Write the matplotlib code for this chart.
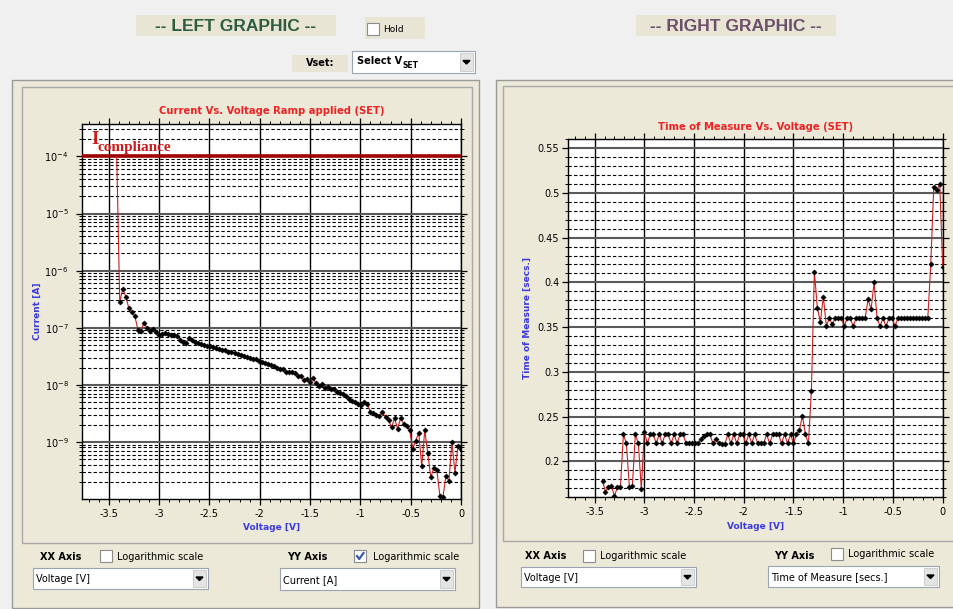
import matplotlib
matplotlib.use("Agg")
import matplotlib.pyplot as plt
from matplotlib.patches import Rectangle, Polygon
from matplotlib.ticker import FixedLocator, LogLocator, MultipleLocator, NullFormatter, FuncFormatter

# voltage ramp (V), shared by both graphics
VOLTAGE = [-3.42, -3.39, -3.36, -3.33, -3.30, -3.27, -3.24, -3.21, -3.18, -3.15,
           -3.12, -3.09, -3.06, -3.03, -3.00, -2.97, -2.94, -2.91, -2.88, -2.85,
           -2.82, -2.79, -2.76, -2.73, -2.70, -2.67, -2.64, -2.61, -2.58, -2.55,
           -2.52, -2.49, -2.46, -2.43, -2.40, -2.37, -2.34, -2.31, -2.28, -2.25,
           -2.22, -2.19, -2.16, -2.13, -2.10, -2.07, -2.04, -2.01, -1.98, -1.95,
           -1.92, -1.89, -1.86, -1.83, -1.80, -1.77, -1.74, -1.71, -1.68, -1.65,
           -1.62, -1.59, -1.56, -1.53, -1.50, -1.47, -1.44, -1.41, -1.38, -1.35,
           -1.32, -1.29, -1.26, -1.23, -1.20, -1.17, -1.14, -1.11, -1.08, -1.05,
           -1.02, -0.99, -0.96, -0.93, -0.90, -0.87, -0.84, -0.81, -0.78, -0.75,
           -0.72, -0.69, -0.66, -0.63, -0.60, -0.57, -0.54, -0.51, -0.48, -0.45,
           -0.42, -0.39, -0.36, -0.33, -0.30, -0.27, -0.24, -0.21, -0.18, -0.15,
           -0.12, -0.09, -0.06, -0.03, 0.00]

# current (A), left graphic
CURRENT = [1.0e-4, 2.8e-7, 4.8e-7, 3.5e-7, 2.2e-7, 1.9e-7, 1.6e-7, 9.3e-8, 8.9e-8, 1.2e-7,
           1.0e-7, 8.9e-8, 9.5e-8, 8.3e-8, 7.6e-8, 7.8e-8, 8.1e-8, 7.9e-8, 7.6e-8, 7.6e-8,
           7.1e-8, 6.0e-8, 5.6e-8, 5.4e-8, 6.5e-8, 6.0e-8, 5.6e-8, 5.4e-8, 5.2e-8, 5.0e-8,
           4.8e-8, 4.7e-8, 4.6e-8, 4.4e-8, 4.3e-8, 4.1e-8, 4.0e-8, 3.8e-8, 3.7e-8, 3.6e-8,
           3.5e-8, 3.3e-8, 3.2e-8, 3.1e-8, 3.0e-8, 2.8e-8, 2.8e-8, 2.6e-8, 2.5e-8, 2.4e-8,
           2.3e-8, 2.2e-8, 2.1e-8, 2.0e-8, 1.9e-8, 1.9e-8, 1.7e-8, 1.66e-8, 1.7e-8, 1.6e-8,
           1.45e-8, 1.4e-8, 1.2e-8, 1.26e-8, 1.1e-8, 1.3e-8, 1.07e-8, 9.5e-9, 1.02e-8, 8.9e-9,
           9.1e-9, 8.5e-9, 8.3e-9, 7.6e-9, 7.2e-9, 6.8e-9, 6.3e-9, 5.6e-9, 5.2e-9, 5.0e-9,
           4.6e-9, 4.4e-9, 5.0e-9, 4.7e-9, 3.3e-9, 3.2e-9, 3.0e-9, 2.8e-9, 3.3e-9, 2.7e-9,
           2.4e-9, 1.8e-9, 2.6e-9, 1.7e-9, 2.6e-9, 2.1e-9, 1.9e-9, 1.6e-9, 7.6e-10, 1.05e-9,
           1.45e-9, 3.8e-10, 1.6e-9, 6.3e-10, 2.4e-10, 3.5e-10, 3.2e-10, 1.15e-10, 1.07e-10, 2.5e-10,
           2.1e-10, 9.8e-10, 2.9e-10, 8.5e-10, 7.6e-10]

# time of measure (s), right graphic
TIME_MEAS = [0.178, 0.166, 0.171, 0.172, 0.161, 0.171, 0.171, 0.230, 0.220, 0.171,
             0.172, 0.230, 0.220, 0.169, 0.233, 0.220, 0.230, 0.230, 0.220, 0.230,
             0.220, 0.230, 0.230, 0.220, 0.230, 0.220, 0.230, 0.230, 0.220, 0.220,
             0.220, 0.220, 0.220, 0.225, 0.228, 0.231, 0.230, 0.220, 0.225, 0.220,
             0.219, 0.219, 0.230, 0.220, 0.230, 0.220, 0.230, 0.230, 0.220, 0.230,
             0.220, 0.230, 0.220, 0.220, 0.220, 0.230, 0.220, 0.230, 0.230, 0.230,
             0.220, 0.230, 0.220, 0.230, 0.220, 0.230, 0.235, 0.251, 0.230, 0.220,
             0.279, 0.412, 0.371, 0.356, 0.384, 0.351, 0.360, 0.353, 0.360, 0.360,
             0.360, 0.351, 0.360, 0.360, 0.351, 0.360, 0.360, 0.360, 0.360, 0.381,
             0.370, 0.400, 0.360, 0.351, 0.360, 0.351, 0.360, 0.360, 0.351, 0.360,
             0.360, 0.360, 0.360, 0.360, 0.360, 0.360, 0.360, 0.360, 0.360, 0.360,
             0.420, 0.507, 0.503, 0.510, 0.417]

I_COMPLIANCE = 1e-4
LOG_TICKS = [1e-9, 1e-8, 1e-7, 1e-6, 1e-5, 1e-4]

W, H = 954, 609
PAGE = "#f0f0f0"
BEIGE = "#ece9d8"
LINE_RED = "#cc2020"
TITLE_RED = "#ee2222"
LABEL_BLUE = "#3a3ae0"
FONT = "DejaVu Sans"

fig = plt.figure(figsize=(W / 100, H / 100), dpi=100)
fig.patch.set_facecolor(PAGE)

# pixel-space layer for the surrounding form controls
ui = fig.add_axes([0, 0, 1, 1])
ui.set_xlim(0, W)
ui.set_ylim(H, 0)
ui.axis("off")


def box(x0, y0, x1, y1, fc, ec="none", lw=1.0):
    ui.add_patch(Rectangle((x0, y0), x1 - x0, y1 - y0, facecolor=fc, edgecolor=ec, lw=lw))


def checkbox(x, y, checked=False):
    box(x, y, x + 12, y + 12, "white", "#8c8c8c", 0.8)
    if checked:
        ui.plot([x + 3, x + 5.2, x + 9.5], [y + 6, y + 9, y + 3], color="#3b58b0", lw=1.6)


def combo(x0, y0, x1, y1, label):
    box(x0, y0, x1, y1, "white", "#9aa4b0", 0.8)
    box(x1 - 15, y0 + 2, x1 - 2, y1 - 2, "#e4e4e4", "#c8c8c8", 0.6)
    cx, cy = x1 - 8.5, (y0 + y1) / 2
    ui.add_patch(Polygon([[cx - 3.5, cy - 1.5], [cx + 3.5, cy - 1.5], [cx, cy + 2]], color="black"))
    ui.text(x0 + 3, (y0 + y1) / 2 + 1, label, ha="left", va="center", fontsize=7, family=FONT)


# panels
box(12, 80, 479, 608, BEIGE, "#9a9a9a", 1.0)
box(22, 87, 472, 543, BEIGE, "#a8a8a8", 1.0)
box(496, 80, 960, 607, BEIGE, "#9a9a9a", 1.0)
box(503, 86, 960, 541, BEIGE, "#a8a8a8", 1.0)

# headers
box(136, 15, 336, 36, "#e8e5d5")
ui.text(236, 26.5, "-- LEFT GRAPHIC --", ha="center", va="center", fontsize=12.5,
        fontweight="bold", color="#2e5c40", family="Liberation Sans")
box(636, 15, 836, 36, "#e8e5d5")
ui.text(736, 26.5, "-- RIGHT GRAPHIC --", ha="center", va="center", fontsize=12.5,
        fontweight="bold", color="#6a4e6a", family="Liberation Sans")

box(365, 17, 425, 39, "#e8e5d5")
checkbox(367, 23)
ui.text(383, 29.5, "Hold", ha="left", va="center", fontsize=6.5, family=FONT)

box(292, 55, 348, 72, "#e8e5d5")
ui.text(320, 63.5, "Vset:", ha="center", va="center", fontsize=7, fontweight="bold", family=FONT)
box(352, 51, 475, 73, "white", "#9aa4b0", 0.8)
box(460, 53, 473, 71, "#e4e4e4", "#c8c8c8", 0.6)
ui.add_patch(Polygon([[463, 60.5], [470, 60.5], [466.5, 64]], color="black"))
sel = ui.text(357, 61, "Select V", ha="left", va="center", fontsize=7, fontweight="bold",
              family=FONT)
# put the subscript right after the main text
renderer = fig.canvas.get_renderer()
sel_end = ui.transData.inverted().transform(sel.get_window_extent(renderer=renderer))[1][0]
ui.text(sel_end + 0.5, 65.5, "SET", ha="left", va="center", fontsize=5.5, fontweight="bold",
        family=FONT)

# bottom controls, left panel
ui.text(40, 556.5, "XX Axis", ha="left", va="center", fontsize=7, fontweight="bold", family=FONT)
checkbox(100, 550)
ui.text(117, 556.5, "Logarithmic scale", ha="left", va="center", fontsize=7, family=FONT)
combo(33, 568, 208, 589, "Voltage [V]")
ui.text(287, 556.5, "YY Axis", ha="left", va="center", fontsize=7, fontweight="bold", family=FONT)
checkbox(354, 550, checked=True)
ui.text(373, 556.5, "Logarithmic scale", ha="left", va="center", fontsize=7, family=FONT)
combo(280, 568, 455, 590, "Current [A]")

# bottom controls, right panel
ui.text(525, 556, "XX Axis", ha="left", va="center", fontsize=7, fontweight="bold", family=FONT)
checkbox(583, 550)
ui.text(600, 556, "Logarithmic scale", ha="left", va="center", fontsize=7, family=FONT)
combo(521, 567, 696, 587, "Voltage [V]")
ui.text(774, 556, "YY Axis", ha="left", va="center", fontsize=7, fontweight="bold", family=FONT)
checkbox(831, 548)
ui.text(848, 554, "Logarithmic scale", ha="left", va="center", fontsize=7, family=FONT)
combo(768, 566, 939, 587, "Time of Measure [secs.]")


def px_axes(x0, y0, x1, y1):
    return fig.add_axes([x0 / W, 1 - y1 / H, (x1 - x0) / W, (y1 - y0) / H])


def volt_fmt(v, _):
    return "0" if abs(v) < 1e-9 else f"{v:g}"


def style(ax):
    ax.set_facecolor("white")
    for s in ax.spines.values():
        s.set_color("black")
        s.set_linewidth(1.0)
    ax.tick_params(which="both", direction="out", top=True, right=True, labelsize=7,
                   colors="black")
    ax.tick_params(which="major", length=4, width=0.9)
    ax.tick_params(which="minor", length=2, width=0.7)
    ax.tick_params(axis="x", pad=3)
    ax.xaxis.set_major_locator(MultipleLocator(0.5))
    ax.xaxis.set_minor_locator(MultipleLocator(0.1))
    ax.xaxis.set_major_formatter(FuncFormatter(volt_fmt))
    ax.grid(which="major", axis="x", color="black", lw=1.0, ls="-")
    ax.grid(which="major", axis="y", color="#5a5a5a", lw=1.5, ls="-")
    ax.grid(which="minor", axis="y", color="black", lw=0.8, ls=(0, (3, 2)))
    ax.set_axisbelow(True)
    for t in ax.get_xticklabels() + ax.get_yticklabels():
        t.set_family(FONT)


# ---- left graphic: I-V ramp
axl = px_axes(82.5, 124, 461, 499)
axl.set_yscale("log")
axl.set_xlim(-3.76, 0)
axl.set_ylim(1e-10, 3.7e-4)
axl.yaxis.set_major_locator(FixedLocator(LOG_TICKS))
axl.yaxis.set_minor_locator(LogLocator(base=10, subs=range(2, 10), numticks=100))
axl.yaxis.set_minor_formatter(NullFormatter())
style(axl)
axl.tick_params(axis="y", pad=6)
axl.axhline(I_COMPLIANCE, color="#a00000", lw=2.6, zorder=3)
axl.plot(VOLTAGE, CURRENT, color=LINE_RED, lw=0.8, marker="D", ms=2.7, mfc="black",
         mec="black", mew=0.3, markevery=list(range(1, len(VOLTAGE))), zorder=4)
axl.set_title("Current Vs. Voltage Ramp applied (SET)", fontsize=7.2, fontweight="bold",
              color=TITLE_RED, family=FONT, pad=7)
axl.set_xlabel("Voltage [V]", fontsize=6.5, fontweight="bold", color=LABEL_BLUE, family=FONT,
               labelpad=3)
axl.set_ylabel("Current [A]", fontsize=6.5, fontweight="bold", color=LABEL_BLUE, family=FONT,
               labelpad=2)
# "I compliance" label, placed in page pixels above the compliance line
axl.text(91, 143.5, "I", transform=ui.transData, ha="left", va="baseline", fontsize=13.5,
         fontweight="bold", color="#cc1a1a", family="Liberation Serif", clip_on=False, zorder=5)
axl.text(98, 150.5, "compliance", transform=ui.transData, ha="left", va="baseline",
         fontsize=11, fontweight="bold", color="#cc1a1a", family="Liberation Serif",
         clip_on=False, zorder=5)

# ---- right graphic: time of measure
axr = px_axes(567.7, 139.3, 943.5, 497)
axr.set_xlim(-3.77, 0.008)
axr.set_ylim(0.16, 0.56)
axr.yaxis.set_major_locator(MultipleLocator(0.05))
axr.yaxis.set_minor_locator(MultipleLocator(0.01))
axr.yaxis.set_major_formatter(FuncFormatter(lambda v, _: "" if v < 0.19 else f"{v:g}"))
style(axr)
axr.tick_params(axis="y", pad=2)
axr.plot(VOLTAGE, TIME_MEAS, color=LINE_RED, lw=0.8, marker="D", ms=2.7, mfc="black",
         mec="black", mew=0.3, zorder=4)
axr.set_title("Time of Measure Vs. Voltage (SET)", fontsize=7.2, fontweight="bold",
              color=TITLE_RED, family=FONT, pad=7)
axr.set_xlabel("Voltage [V]", fontsize=6.5, fontweight="bold", color=LABEL_BLUE, family=FONT,
               labelpad=4)
axr.set_ylabel("Time of Measure [secs.]", fontsize=6.5, fontweight="bold", color=LABEL_BLUE,
               family=FONT, labelpad=4)

fig.savefig("out.png", dpi=100, facecolor=fig.get_facecolor())
